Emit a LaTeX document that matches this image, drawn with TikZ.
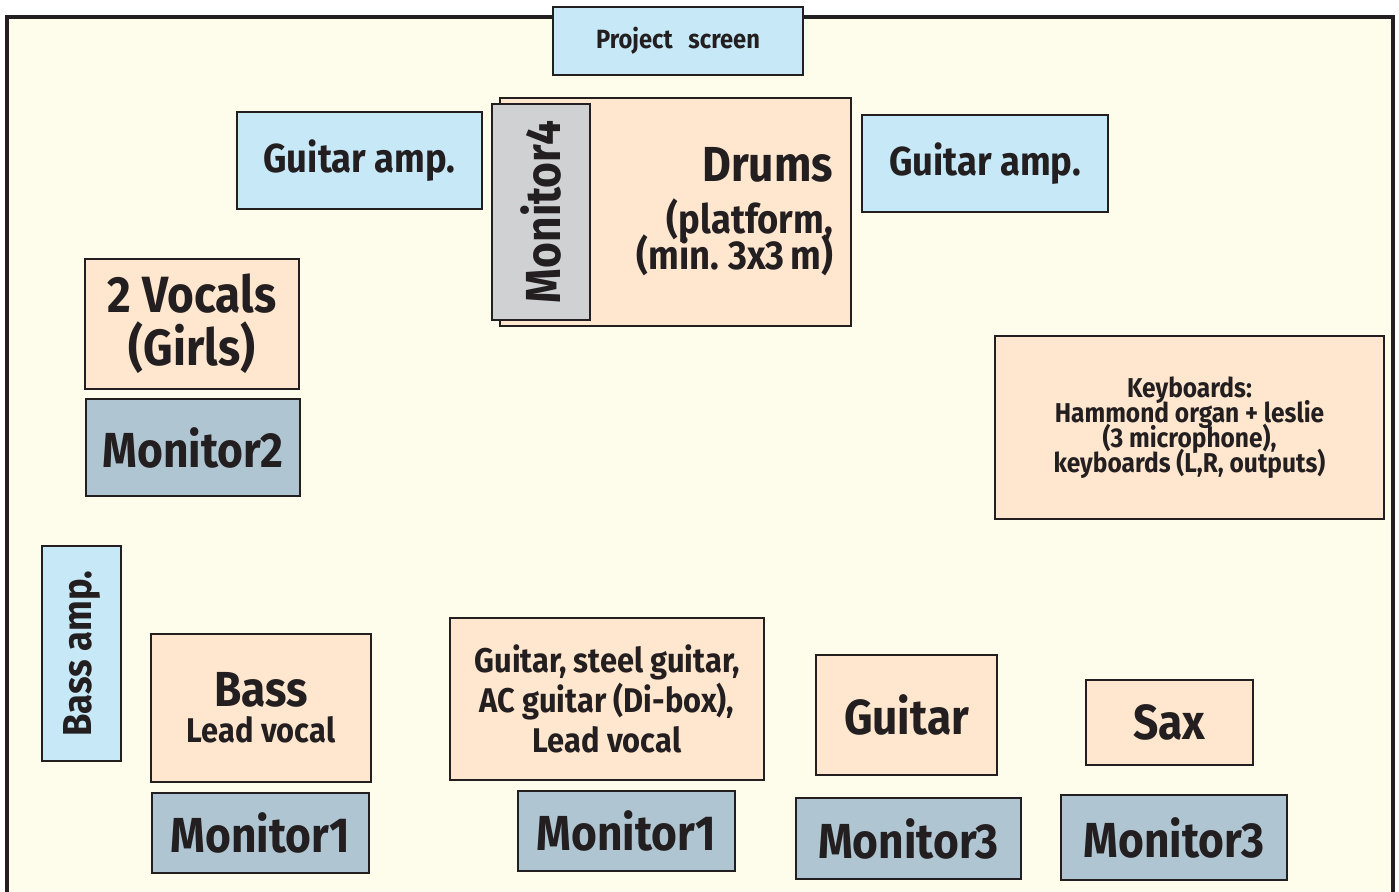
\documentclass[tikz,border=0pt]{standalone}
\usepackage{fontspec}
\setmainfont{Fira Sans}[FakeStretch=0.9]
\usetikzlibrary{positioning}

\definecolor{stagefill}{HTML}{FEFCEA}
\definecolor{ampblue}{HTML}{C6E8F7}
\definecolor{placepeach}{HTML}{FFE6CE}
\definecolor{monblue}{HTML}{AFC5D2}
\definecolor{mongray}{HTML}{D0D1D3}
\definecolor{inkdark}{HTML}{231F20}

\newcommand\lblhuge{\fontsize{29}{30}\selectfont\bfseries}
\newcommand\lblbig{\fontsize{28}{30}\selectfont\bfseries}
\newcommand\lblmid{\fontsize{23}{26}\selectfont\bfseries}
\newcommand\lblsmall{\fontsize{19.5}{22.7}\selectfont\bfseries}
\newcommand\lblkey{\fontsize{15.5}{14.2}\selectfont\bfseries\lineskiplimit=-20pt}
\newcommand\lbltiny{\fontsize{15}{15}\selectfont\bfseries}

\tikzset{
  spot/.style={draw=inkdark, line width=1.1pt, inner sep=0pt, text=inkdark, align=center},
  boxsize/.style 2 args={minimum width=#1*0.02cm, minimum height=#2*0.02cm},
  amp/.style={spot, fill=ampblue},
  player/.style={spot, fill=placepeach},
  wedge/.style={spot, fill=monblue, font=\lblbig},
}

\begin{document}
\begin{tikzpicture}[x=0.02cm, y=-0.02cm]
  %tikz  stage plan
    \useasboundingbox (0,0) rectangle (1399,892);
    \fill[white] (0,0) rectangle (1399,892);
    \fill[stagefill] (7,17) rectangle (1393,892);
    \draw[inkdark, line width=2.8pt] (7,892) -- (7,17) -- (1393,17) -- (1393,892);

    \node[amp, boxsize={250}{68}, font=\lbltiny] (screen) at (678,41) {Project\hspace{0.6em}screen};
    \node[amp, boxsize={245}{97}, font=\lblmid] (ampL) at (359.5,160.5) {Guitar amp.};
    \node[amp, boxsize={246}{97}, font=\lblmid] (ampR) at (985,163.5) {Guitar amp.};

    \node[player, boxsize={351}{228}, text width=6.3cm, align=right] (drums) at (675.5,212)
      {{\lblbig Drums}\\[8pt]{\lblmid (platform,}\\[-5pt]{\lblmid (min. 3x3 m)}};
    \node[spot, fill=mongray, boxsize={216}{98}, rotate=90, font=\lblbig] (mon4) at (541,212) {Monitor4};

    \node[player, boxsize={214}{130}, font=\lblhuge] (vocals) at (192,324) {2 Vocals\\(Girls)};
    \node[wedge, boxsize={214}{97}] (mon2) at (193,447.5) {Monitor2};

    \node[player, boxsize={389}{183}, font=\lblkey] (keys) at (1189.5,427.5)
      {Keyboards:\\Hammond organ + leslie\\(3 microphone),\\keyboards (L,R, outputs)};

    \node[amp, boxsize={215}{79}, rotate=90, font=\lblmid] (bassamp) at (81.5,653.5) {Bass amp.};
    \node[player, boxsize={220}{148}] (bass) at (261,708) {{\lblbig Bass}\\[4pt]{\lblsmall Lead vocal}};
    \node[player, boxsize={314}{162}, font=\lblsmall] (guitars) at (607,699)
      {Guitar, steel guitar,\\AC guitar (Di-box),\\Lead vocal};
    \node[player, boxsize={181}{120}, font=\lblbig] (guitar) at (906.5,715) {Guitar};
    \node[player, boxsize={167}{85}, font=\lblbig] (sax) at (1169.5,722.5) {Sax};

    \foreach \name/\x/\y/\w/\h/\n in {monA/260.5/833/217/80/1, monB/626.5/831/217/80/1,
                                       monC/908.5/838.5/225/81/3, monD/1174/837.5/226/85/3}{
        \node[wedge, boxsize={\w}{\h}] (\name) at (\x,\y) {Monitor\n};
    }
  \end{tikzpicture}
\end{document}
